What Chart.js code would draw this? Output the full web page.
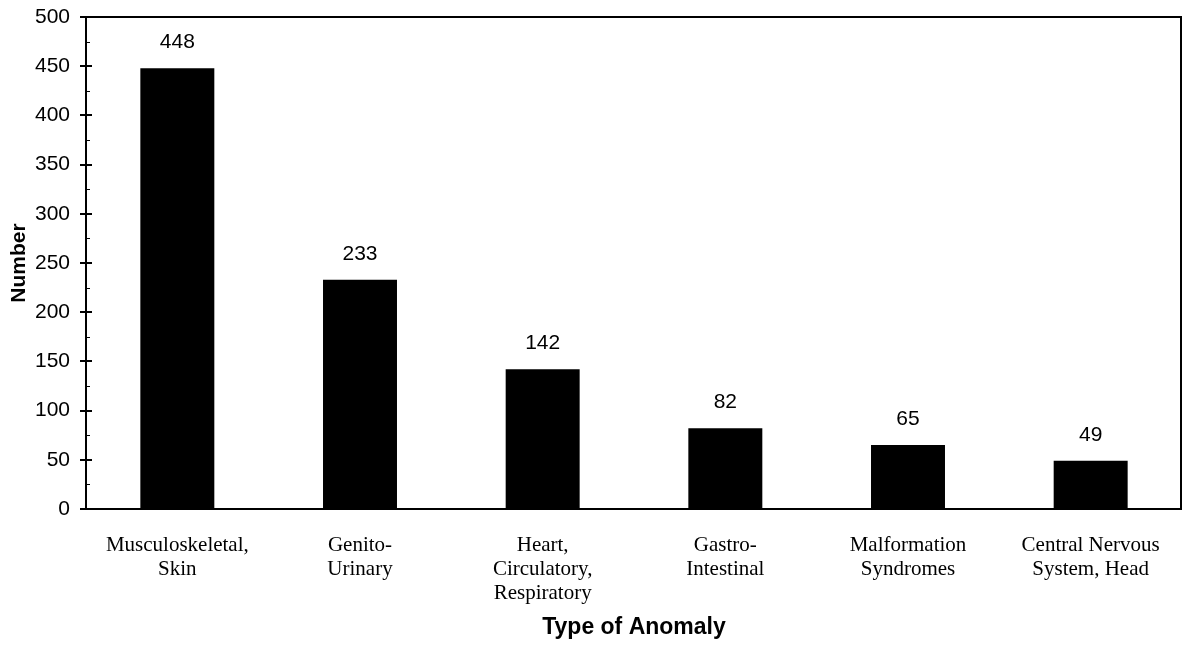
<!DOCTYPE html>
<html>
<head>
<meta charset="utf-8">
<script src="https://cdn.jsdelivr.net/npm/chart.js@4"></script>
<style>
  body { margin: 0; background: white; }
  canvas { display: block; }
</style>
</head>
<body>
<canvas id="myChart" width="1182" height="646"></canvas>
<script>
const categories = [
  ['Musculoskeletal,', 'Skin'],
  ['Genito-', 'Urinary'],
  ['Heart,', 'Circulatory,', 'Respiratory'],
  ['Gastro-', 'Intestinal'],
  ['Malformation', 'Syndromes'],
  ['Central Nervous', 'System, Head']
];
const counts = [448, 233, 142, 82, 65, 49];
const yTicks = [0, 50, 100, 150, 200, 250, 300, 350, 400, 450, 500];
const yMinorTicks = [25, 75, 125, 175, 225, 275, 325, 375, 425, 475];

// value labels above bars, plot frame and tick marks
const extras = {
  id: 'extras',
  afterDatasetsDraw(chart) {
    const ctx = chart.ctx;
    const area = chart.chartArea;
    const y = chart.scales.y;
    ctx.save();
    ctx.fillStyle = 'black';
    ctx.font = '21px "Liberation Sans", Arial, sans-serif';
    ctx.textAlign = 'center';
    ctx.textBaseline = 'middle';
    chart.getDatasetMeta(0).data.forEach((bar, i) => {
      ctx.fillText(String(counts[i]), bar.x, bar.y - 26);
    });

    ctx.strokeStyle = 'black';
    ctx.lineWidth = 2;
    ctx.strokeRect(area.left, area.top, area.right - area.left - 1, area.bottom - area.top);

    ctx.beginPath();
    yTicks.forEach(v => {
      const py = Math.round(y.getPixelForValue(v));
      ctx.moveTo(area.left - 6, py);
      ctx.lineTo(area.left + 6, py);
    });
    ctx.stroke();
    ctx.lineWidth = 1;
    ctx.beginPath();
    yMinorTicks.forEach(v => {
      const py = Math.round(y.getPixelForValue(v)) + 0.5;
      ctx.moveTo(area.left, py);
      ctx.lineTo(area.left + 4, py);
    });
    ctx.stroke();
    ctx.restore();
  }
};

const data = {
  labels: categories,
  datasets: [{
    data: counts,
    backgroundColor: 'black',
    borderWidth: 0,
    barPercentage: 0.405,
    categoryPercentage: 1
  }]
};

const config = {
  type: 'bar',
  data: data,
  options: {
    responsive: false,
    animation: false,
    layout: { padding: { top: 17, right: 0, left: 0, bottom: 0 } },
    scales: {
      x: {
        grid: { display: false, drawTicks: false },
        border: { display: false },
        ticks: {
          color: 'black',
          padding: 24,
          maxRotation: 0,
          autoSkip: false,
          font: { family: '"Liberation Serif", "Times New Roman", serif', size: 21, lineHeight: '24px' }
        },
        title: {
          display: true,
          text: 'Type of Anomaly',
          color: 'black',
          font: { family: '"Liberation Sans", Arial, sans-serif', size: 23, weight: 'bold' },
          padding: { top: 0, bottom: 5 }
        },
        afterFit(scale) {
          scale.height = 137;
          scale.paddingLeft = 0;
          scale.paddingRight = 0;
        }
      },
      y: {
        min: 0,
        max: 500,
        grid: { display: false, drawTicks: false },
        border: { display: false },
        ticks: {
          stepSize: 50,
          color: 'black',
          padding: 16,
          font: { family: '"Liberation Sans", Arial, sans-serif', size: 21 }
        },
        title: {
          display: true,
          text: 'Number',
          color: 'black',
          font: { family: '"Liberation Sans", Arial, sans-serif', size: 21, weight: 'bold' },
          padding: { top: 7, bottom: 0 }
        },
        afterFit(scale) {
          scale.width = 86;
          scale.paddingTop = 0;
          scale.paddingBottom = 0;
        }
      }
    },
    plugins: {
      legend: { display: false },
      tooltip: { enabled: false }
    }
  },
  plugins: [extras]
};

const myChart = new Chart(document.getElementById('myChart'), config);
</script>
</body>
</html>
